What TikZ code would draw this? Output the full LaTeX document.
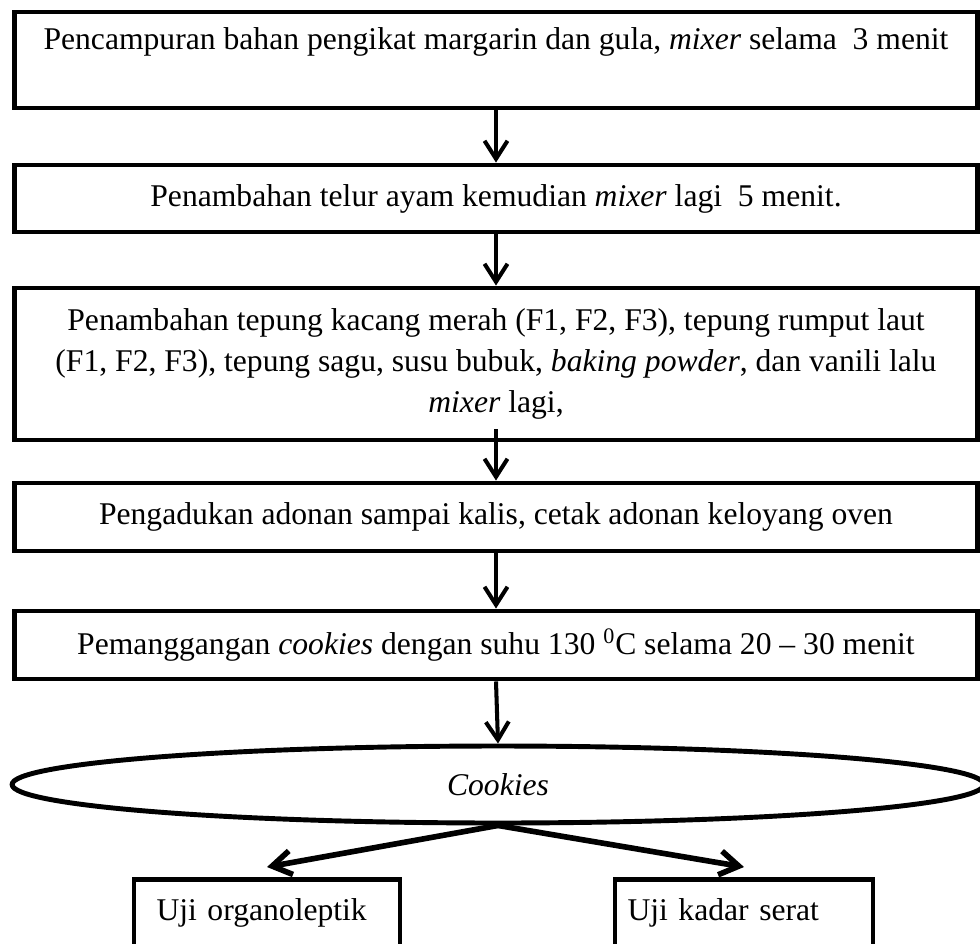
\documentclass[tikz,border=0pt]{standalone}
\usepackage{fontspec}
\setmainfont{Liberation Serif}
\usetikzlibrary{arrows.meta, shapes.geometric, positioning}

\begin{document}
\begin{tikzpicture}[
    x=0.02cm, y=-0.02cm,
    font=\fontsize{18}{23.5}\selectfont,
    proses/.style={rectangle, draw, line width=2.8pt, minimum width=19.28cm, minimum height=#1, inner sep=0pt, align=center},
    hasil/.style={ellipse, draw, line width=2.8pt, minimum width=19.44cm, minimum height=1.54cm, inner sep=0pt},
    uji/.style 2 args={rectangle, draw, line width=2.8pt, anchor=north, align=left, text width=#1, inner xsep=#2, inner ysep=0.1cm, text height=0.72cm, text depth=1.3cm},
    panah/.style={-{Straight Barb[length=3.6mm, width=4.6mm]}, line width=2.3pt},
    cabang/.style={-{Straight Barb[length=3.8mm, width=4.8mm]}, line width=3.2pt}
]
\useasboundingbox (0,0) rectangle (980,943);
\clip (0,0) rectangle (980,943);
% langkah pembuatan
\node[proses=1.92cm, text height=0.74cm, text depth=1.18cm] (b1) at (496,60) {Pencampuran bahan pengikat margarin dan gula, \textit{mixer} selama\ \ 3 menit};
\node[proses=1.34cm] (b2) at (496,198.5) {Penambahan telur ayam kemudian \textit{mixer} lagi\ \ 5 menit.};
\node[proses=3.04cm] (b3) at (496,364) {Penambahan tepung kacang merah (F1, F2, F3), tepung rumput laut\\(F1, F2, F3), tepung sagu, susu bubuk, \textit{baking powder}, dan vanili lalu\\\textit{mixer} lagi,};
\node[proses=1.36cm] (b4) at (496,517) {Pengadukan adonan sampai kalis, cetak adonan keloyang oven};
\node[proses=1.36cm] (b5) at (496,645) {Pemanggangan \textit{cookies} dengan suhu 130 \textsuperscript{0}C selama 20 -- 30 menit};
\node[hasil] (cookies) at (498,784.5) {\textit{Cookies}};
% pengujian
\node[uji={4.42cm}{0.45cm}] (organo) at (267,877) {Uji organoleptik};
\node[uji={4.66cm}{0.25cm}] (serat) at (744,877) {Uji kadar serat};
\draw[panah] (b1.south) -- (b2.north);
\draw[panah] (b2.south) -- (b3.north);
\draw[panah] ([yshift=0.26cm]b3.south) -- (b4.north);
\draw[panah] (b4.south) -- (b5.north);
\draw[panah] (b5.south) -- (cookies.north);
\draw[cabang] (cookies.south) -- ([yshift=0.2cm]organo.north);
\draw[cabang] (cookies.south) -- ([yshift=0.2cm]serat.north);
\end{tikzpicture}
\end{document}
